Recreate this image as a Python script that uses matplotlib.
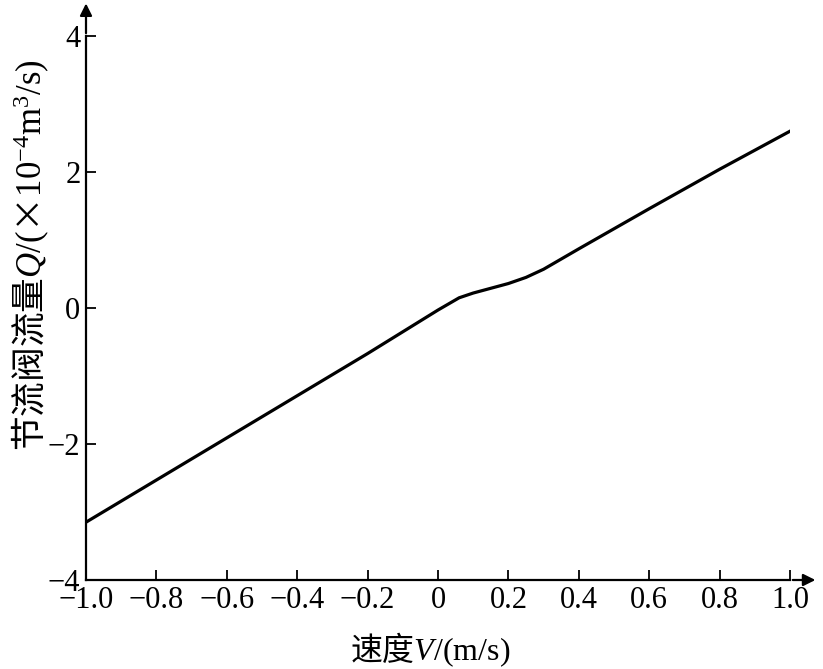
import matplotlib
matplotlib.use('Agg')
import matplotlib.pyplot as plt

plt.rcParams['font.family'] = ['Liberation Serif', 'Noto Sans CJK SC']
plt.rcParams['mathtext.fontset'] = 'custom'
plt.rcParams['mathtext.rm'] = 'Liberation Serif'
plt.rcParams['mathtext.it'] = 'Liberation Serif:italic'

# throttle valve flow vs speed
speed = [-1.0, -0.8, -0.6, -0.4, -0.2, 0.0, 0.06, 0.1, 0.15, 0.2, 0.25, 0.3, 0.4, 0.6, 0.8, 1.0]
flow = [-3.15, -2.53, -1.91, -1.29, -0.67, -0.03, 0.15, 0.22, 0.29, 0.36, 0.45, 0.57, 0.87, 1.46, 2.04, 2.60]

xticks = [-1.0, -0.8, -0.6, -0.4, -0.2, 0.0, 0.2, 0.4, 0.6, 0.8, 1.0]
xticklabels = ['\u22121.0', '\u22120.8', '\u22120.6', '\u22120.4', '\u22120.2', '0', '0.2', '0.4', '0.6', '0.8', '1.0']
yticks = [-4, -2, 0, 2, 4]
yticklabels = ['\u22124', '\u22122', '0', '2', '4']

fig = plt.figure(figsize=(8.23, 6.69), dpi=100)
ax = fig.add_axes([86 / 823, 89 / 669, 704 / 823, 544 / 669])

ax.plot(speed, flow, color='black', lw=2.3)

ax.set_xlim(-1.0, 1.0)
ax.set_ylim(-4, 4)
ax.set_xticks(xticks)
ax.set_xticklabels(xticklabels, fontsize=22)
ax.set_yticks(yticks)
ax.set_yticklabels(yticklabels, fontsize=22)
ax.tick_params(direction='in', length=7, width=1.3, pad=4)

for s in ['top', 'right']:
    ax.spines[s].set_visible(False)
for s in ['left', 'bottom']:
    ax.spines[s].set_linewidth(1.6)

# axis arrows
ax.annotate('', xy=(0, 1.065), xycoords='axes fraction', xytext=(0, 1.0),
            arrowprops=dict(arrowstyle='-|>', color='black', lw=1.6, mutation_scale=18),
            annotation_clip=False)
ax.annotate('', xy=(1.04, 0), xycoords='axes fraction', xytext=(1.0, 0),
            arrowprops=dict(arrowstyle='-|>', color='black', lw=1.6, mutation_scale=18),
            annotation_clip=False)

fig.text(430 / 823, 1 - 650 / 669, '速度$\\mathit{V}/(\\mathrm{m/s})$', fontsize=23,
         ha='center', va='center', family=['Noto Sans CJK SC', 'Liberation Serif'])
fig.text(30 / 823, 1 - 255 / 669,
         '节流阀流量$\\mathit{Q}/($×$10^{-4}\\mathrm{m}^{3}/\\mathrm{s})$', fontsize=25,
         rotation=90, ha='center', va='center', family=['Noto Sans CJK SC', 'Liberation Serif'])

fig.savefig('out.png', dpi=100)
